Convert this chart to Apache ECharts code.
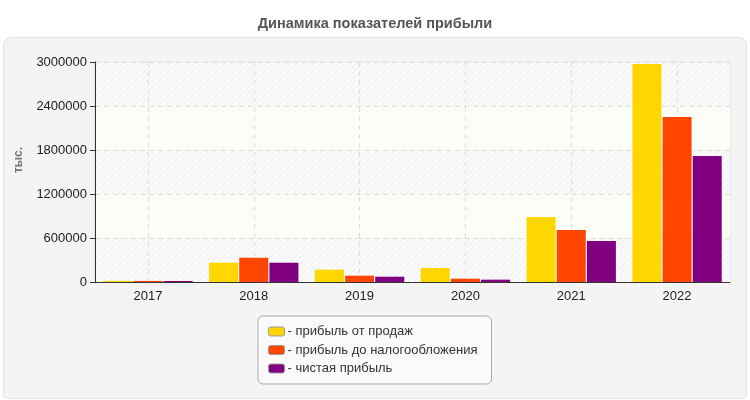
<!DOCTYPE html>
<html>
<head>
<meta charset="utf-8">
<script src="https://cdn.jsdelivr.net/npm/echarts@6/dist/echarts.min.js"></script>
<style>
  html, body { margin: 0; padding: 0; background: #fff; }
  #main { width: 750px; height: 400px; }
</style>
</head>
<body>
<div id="main"></div>
<script>
const years = ['2017', '2018', '2019', '2020', '2021', '2022'];
const salesProfit = [15000, 263000, 168000, 191000, 886000, 2973000];
const preTaxProfit = [15000, 331000, 86000, 45000, 709000, 2250000];
const netProfit = [14000, 263000, 72000, 32000, 559000, 1718000];
const seriesNames = ['- прибыль от продаж', '- прибыль до налогообложения', '- чистая прибыль'];
const seriesColors = ['#FFD700', '#FF4500', '#800080'];

// diagonal hatch for every other band
function hatch() {
  const c = document.createElement('canvas');
  c.width = 6;
  c.height = 6;
  const ctx = c.getContext('2d');
  ctx.fillStyle = '#fafafa';
  ctx.fillRect(0, 0, 6, 6);
  ctx.strokeStyle = '#ececec';
  ctx.lineWidth = 1;
  ctx.beginPath();
  ctx.moveTo(0, 6); ctx.lineTo(6, 0);
  ctx.moveTo(-3, 3); ctx.lineTo(3, -3);
  ctx.moveTo(3, 9); ctx.lineTo(9, 3);
  ctx.stroke();
  return c;
}

const chart = echarts.init(document.getElementById('main'));
const font = 'Arial, "Liberation Sans", sans-serif';

chart.setOption({
  animation: false,
  textStyle: { fontFamily: font },
  title: {
    text: 'Динамика показателей прибыли',
    left: 'center',
    top: 11,
    textStyle: { fontSize: 14.5, fontWeight: 'bold', color: '#555' }
  },
  graphic: [{
    type: 'rect',
    z: -10,
    shape: { x: 3.5, y: 37.5, width: 743, height: 361, r: [8, 8, 4, 4] },
    style: { fill: '#f4f4f4', stroke: '#e2e2e2', lineWidth: 1 }
  }],
  grid: {
    left: 95, right: 20, top: 62, bottom: 118,
    show: true, borderColor: '#e0e0e0', borderWidth: 1,
    backgroundColor: 'transparent'
  },
  legend: {
    orient: 'vertical',
    left: 258,
    top: 316,
    padding: [9, 14, 9, 10],
    backgroundColor: '#fafafa',
    borderColor: '#aaa',
    borderWidth: 1,
    borderRadius: 5,
    itemWidth: 16,
    itemHeight: 9,
    itemGap: 5.5,
    icon: 'roundRect',
    itemStyle: { borderColor: '#999', borderWidth: 1 },
    textStyle: { fontSize: 13, color: '#333', padding: [0, 0, 0, -2] },
    data: seriesNames
  },
  xAxis: {
    type: 'category',
    data: years,
    axisLine: { lineStyle: { color: '#333' } },
    axisTick: { alignWithLabel: true, length: 5, lineStyle: { color: '#333' } },
    axisLabel: { fontSize: 13, color: '#222', margin: 8 },
    splitLine: { show: true, alignWithLabel: true, lineStyle: { color: '#ddd', type: [5, 4] } }
  },
  yAxis: {
    type: 'value',
    min: 0,
    max: 3000000,
    interval: 600000,
    name: 'тыс.',
    nameLocation: 'middle',
    nameGap: 70,
    nameRotate: 90,
    nameMoveOverlap: false,
    nameTextStyle: { fontSize: 12, fontWeight: 'bold', color: '#777', padding: [0, 0, 0, 24] },
    axisLine: { show: true, lineStyle: { color: '#333' } },
    axisTick: { show: true, length: 5, lineStyle: { color: '#333' } },
    axisLabel: { fontSize: 13, color: '#222', margin: 8, formatter: v => String(v) },
    splitLine: { lineStyle: { color: '#ddd', type: [5, 4] } },
    splitArea: {
      show: true,
      areaStyle: { color: [{ image: hatch(), repeat: 'repeat' }, '#fdfdf8'] }
    }
  },
  series: [
    { name: seriesNames[0], type: 'bar', data: salesProfit, barWidth: 29, barGap: '4%', itemStyle: { color: seriesColors[0] } },
    { name: seriesNames[1], type: 'bar', data: preTaxProfit, barWidth: 29, barGap: '4%', itemStyle: { color: seriesColors[1] } },
    { name: seriesNames[2], type: 'bar', data: netProfit, barWidth: 29, barGap: '4%', itemStyle: { color: seriesColors[2] } }
  ]
});
</script>
</body>
</html>
